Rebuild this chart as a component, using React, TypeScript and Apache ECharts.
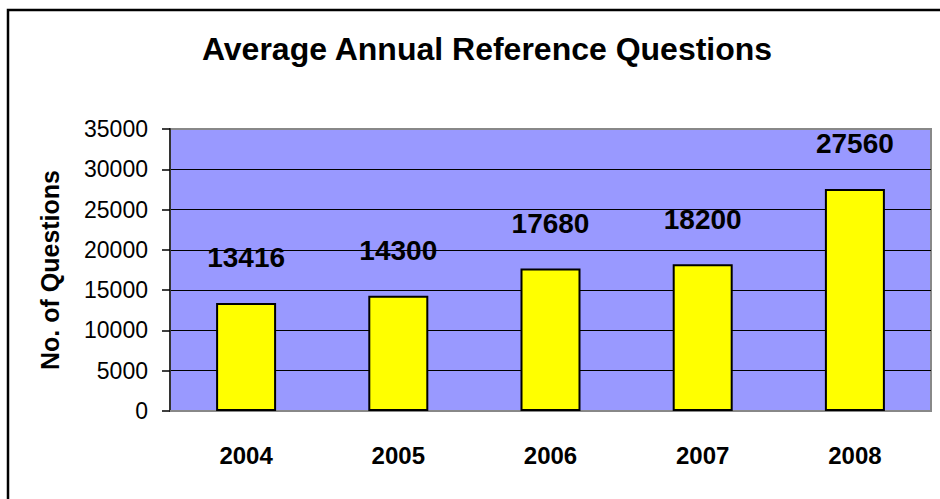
import React, { useEffect, useRef } from "react";
import * as echarts from "echarts";

const years = ["2004", "2005", "2006", "2007", "2008"];
const questions = [13416, 14300, 17680, 18200, 27560];
const yMin = 0;
const yMax = 35000;
const yStep = 5000;
const titleText = "Average Annual Reference Questions";
const yAxisTitle = "No. of Questions";

const FONT = "'Liberation Sans', Arial, Helvetica, sans-serif";

export default function App() {
  const ref = useRef<HTMLDivElement>(null);
  useEffect(() => {
    if (!ref.current) return;
    const chart = echarts.init(ref.current, null, { renderer: "svg" });
    chart.setOption({
      animation: false,
      backgroundColor: "#ffffff",
      textStyle: { fontFamily: FONT },
      title: {
        text: titleText,
        left: 482,
        textAlign: "center",
        top: 28,
        textStyle: { fontFamily: FONT, fontSize: 32, fontWeight: "bold", color: "#000" },
      },
      graphic: [
        {
          type: "rect",
          shape: { x: 8, y: 10, width: 960, height: 520 },
          style: { fill: "none", stroke: "#000", lineWidth: 2.5 },
          silent: true,
          z: 100,
        },
      ],
      grid: {
        left: 170,
        top: 129,
        right: 9,
        bottom: 88,
        show: true,
        backgroundColor: "#9999FF",
        borderColor: "#888888",
        borderWidth: 2,
      },
      xAxis: {
        type: "category",
        data: years,
        axisLine: { show: true, lineStyle: { color: "#888888", width: 2 } },
        axisTick: { show: false },
        axisLabel: {
          margin: 32,
          fontFamily: FONT,
          fontSize: 24,
          fontWeight: "bold",
          color: "#000",
        },
      },
      yAxis: {
        type: "value",
        min: yMin,
        max: yMax,
        interval: yStep,
        name: yAxisTitle,
        nameLocation: "middle",
        nameGap: 108,
        nameTextStyle: { fontFamily: FONT, fontSize: 25, fontWeight: "bold", color: "#000" },
        axisLine: { show: true, lineStyle: { color: "#333333", width: 2 } },
        axisTick: { show: true, length: 8, lineStyle: { color: "#000", width: 1.5 } },
        axisLabel: {
          margin: 22,
          fontFamily: FONT,
          fontSize: 23,
          color: "#000",
          formatter: (v: number) => String(v),
        },
        splitLine: {
          show: true,
          showMinLine: false,
          showMaxLine: false,
          lineStyle: { color: "#000", width: 1 },
        },
      },
      series: [
        {
          type: "bar",
          data: questions,
          barWidth: 60,
          itemStyle: { color: "#FFFF00", borderColor: "#000", borderWidth: 2 },
          label: {
            show: true,
            position: "top",
            distance: 31,
            fontFamily: FONT,
            fontSize: 28,
            fontWeight: "bold",
            color: "#000",
          },
        },
      ],
    });
    return () => chart.dispose();
  }, []);
  return (
    <div
      ref={ref}
      style={{ position: "fixed", left: 0, top: 0, width: 940, height: 499 }}
    />
  );
}
